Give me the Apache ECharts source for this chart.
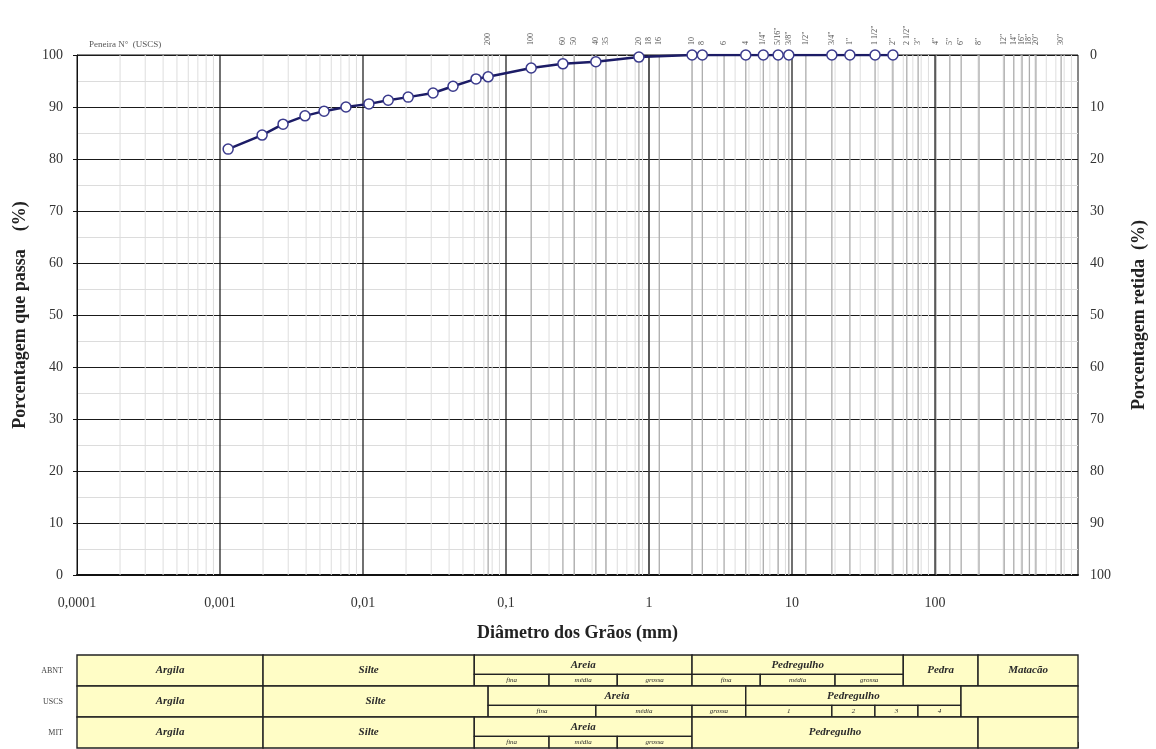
<!DOCTYPE html>
<html>
<head>
<meta charset="utf-8">
<script src="https://cdn.jsdelivr.net/npm/echarts@6/dist/echarts.min.js"></script>
<style>html,body{margin:0;padding:0;background:#fff}#c{width:1156px;height:749px}</style>
</head>
<body>
<div id="c"></div>
<script>
// ---- data ----
var diameters = [0.00114,0.00197,0.00276,0.00393,0.00534,0.0076,0.0110,0.0150,0.0207,0.0309,0.0426,0.0617,0.075,0.15,0.25,0.425,0.85,2.0,2.36,4.75,6.3,8.0,9.5,19.0,25.4,38.1,50.8];
var passing   = [81.9,84.6,86.7,88.3,89.2,90.0,90.6,91.3,91.9,92.7,94.0,95.4,95.8,97.5,98.3,98.7,99.6,100,100,100,100,100,100,100,100,100,100];
var sieveNames = ['200','100','60','50','40','35','20','18','16','10','8','6','4','1/4"','5/16"','3/8"','1/2"','3/4"','1"','1 1/2"','2"','2 1/2"','3"','4"','5"','6"','8"','12"','14"','16"','18"','20"','30"'];
var sieveSizes = [0.075,0.15,0.25,0.3,0.425,0.5,0.85,1.0,1.18,2.0,2.36,3.35,4.75,6.3,8.0,9.5,12.5,19.0,25.4,38.1,50.8,63.5,76.2,101.6,127,152.4,203.2,304.8,355.6,406.4,457.2,508,762];
var xTickLabels = ['0,0001','0,001','0,01','0,1','1','10','100',''];
var rowNames = ['ABNT','USCS','MIT'];
// cells: [from mm, to mm, part(0 full,1 upper,2 lower), label]
var abntCells = [[0.0001,0.002,0,'Argila'],[0.002,0.06,0,'Silte'],[0.06,2,1,'Areia'],[0.06,0.2,2,'fina'],[0.2,0.6,2,'média'],[0.6,2,2,'grossa'],[2,60,1,'Pedregulho'],[2,6,2,'fina'],[6,20,2,'média'],[20,60,2,'grossa'],[60,200,0,'Pedra'],[200,1000,0,'Matacão']];
var uscsCells = [[0.0001,0.002,0,'Argila'],[0.002,0.075,0,'Silte'],[0.075,4.75,1,'Areia'],[0.075,0.425,2,'fina'],[0.425,2,2,'média'],[2,4.75,2,'grossa'],[4.75,152,1,'Pedregulho'],[4.75,19,2,'1'],[19,38,2,'2'],[38,76,2,'3'],[76,152,2,'4'],[152,1000,0,'']];
var mitCells  = [[0.0001,0.002,0,'Argila'],[0.002,0.06,0,'Silte'],[0.06,2,1,'Areia'],[0.06,0.2,2,'fina'],[0.2,0.6,2,'média'],[0.6,2,2,'grossa'],[2,200,0,'Pedregulho'],[200,1000,0,'']];

var SERIF = '"Liberation Serif","DejaVu Serif",serif';

// grid line positions (log paper)
var minorX = [];
for (var e = -4; e <= 2; e++) { for (var k = 2; k <= 9; k++) minorX.push([k * Math.pow(10, e)]); }
var decadeX = [];
for (var e2 = -3; e2 <= 2; e2++) decadeX.push([Math.pow(10, e2)]);

var tableCells = [];
[abntCells, uscsCells, mitCells].forEach(function (rows, r) {
  rows.forEach(function (c) { tableCells.push({ value: [c[0], c[1], r], part: c[2], label: c[3] }); });
});

function vLine(color, width) {
  return function (params, api) {
    var x = api.value(0);
    var p0 = api.coord([x, 0]), p1 = api.coord([x, 100]);
    return { type: 'line', shape: { x1: p0[0], y1: p0[1], x2: p1[0], y2: p1[1] }, style: { stroke: color, lineWidth: width } };
  };
}

var chart = echarts.init(document.getElementById('c'), null, { renderer: 'canvas' });
chart.setOption({
  animation: false,
  backgroundColor: '#fff',
  title: { text: 'Peneira N°  (USCS)', left: 84, top: 35, textStyle: { fontFamily: SERIF, fontSize: 9, fontWeight: 'normal', color: '#555' } },
  grid: [
    { left: 77, right: 78, top: 55, height: 520, show: true, borderColor: '#111', borderWidth: 1, backgroundColor: '#fff' },
    { left: 77, right: 78, top: 655, height: 93 }
  ],
  xAxis: [
    { type: 'log', gridIndex: 0, min: 0.0001, max: 1000, logBase: 10, splitNumber: 7,
      axisLine: { show: true, lineStyle: { color: '#111', width: 2 } }, axisTick: { show: false },
      splitLine: { show: false },
      axisLabel: { margin: 21, fontFamily: SERIF, fontSize: 14, color: '#333',
        formatter: function (v) { var i = Math.round(Math.log10(v)) + 4; return xTickLabels[i] || ''; } },
      name: 'Diâmetro dos Grãos (mm)', nameLocation: 'middle', nameGap: 49,
      nameTextStyle: { fontFamily: SERIF, fontSize: 18, fontWeight: 'bold', color: '#222' } },
    { type: 'log', gridIndex: 1, min: 0.0001, max: 1000, logBase: 10, splitNumber: 7, position: 'top',
      axisLine: { show: false }, axisTick: { show: true, length: 6, lineStyle: { color: '#333' } },
      axisLabel: { show: false }, splitLine: { show: false } }
  ],
  yAxis: [
    { type: 'value', gridIndex: 0, min: 0, max: 100, interval: 10,
      axisLine: { show: true, lineStyle: { color: '#111' } }, axisTick: { show: true, length: 4, lineStyle: { color: '#111' } },
      axisLabel: { margin: 14, fontFamily: SERIF, fontSize: 14, color: '#333' },
      splitLine: { show: true, lineStyle: { color: '#1a1a1a', width: 1 } },
      minorTick: { show: false, splitNumber: 2 }, minorSplitLine: { show: true, lineStyle: { color: '#dcdcdc', width: 1 } },
      name: 'Porcentagem que passa    (%)', nameLocation: 'middle', nameGap: 48, nameRotate: 90,
      nameTextStyle: { fontFamily: SERIF, fontSize: 18, fontWeight: 'bold', color: '#222' } },
    { type: 'value', gridIndex: 0, min: 0, max: 100, interval: 10, inverse: true, position: 'right',
      axisLine: { show: false }, axisTick: { show: false },
      axisLabel: { margin: 12, fontFamily: SERIF, fontSize: 14, color: '#333' }, splitLine: { show: false },
      name: 'Porcentagem retida  (%)', nameLocation: 'middle', nameGap: 52, nameRotate: 90,
      nameTextStyle: { fontFamily: SERIF, fontSize: 18, fontWeight: 'bold', color: '#222' } },
    { type: 'value', gridIndex: 1, min: 0, max: 3, show: false }
  ],
  series: [
    { type: 'custom', xAxisIndex: 0, yAxisIndex: 0, data: minorX, renderItem: vLine('#dedede', 1), z: 1, silent: true },
    { type: 'custom', xAxisIndex: 0, yAxisIndex: 0, data: sieveSizes.map(function (s) { return [s]; }), renderItem: vLine('#acacac', 1.3), z: 2, silent: true },
    { type: 'custom', xAxisIndex: 0, yAxisIndex: 0, data: decadeX, renderItem: vLine('#111', 1.2), z: 3, silent: true },
    { type: 'custom', xAxisIndex: 0, yAxisIndex: 0, clip: false, silent: true, z: 4,
      data: sieveSizes.map(function (s) { return [s]; }),
      renderItem: function (params, api) {
        var p = api.coord([api.value(0), 100]);
        return { type: 'text', x: p[0], y: p[1] - 10, rotation: Math.PI / 2,
          style: { text: sieveNames[params.dataIndex], fill: '#555', font: '8px ' + SERIF, align: 'left', verticalAlign: 'middle' } };
      } },
    { type: 'line', xAxisIndex: 0, yAxisIndex: 0, z: 10,
      data: diameters.map(function (d, i) { return [d, passing[i]]; }),
      symbol: 'circle', symbolSize: 10, showAllSymbol: true,
      lineStyle: { color: '#1c1c66', width: 2.5 },
      itemStyle: { color: '#ffffff', borderColor: '#3a3a8c', borderWidth: 1.5 } },
    { type: 'custom', xAxisIndex: 1, yAxisIndex: 2, clip: false, silent: true, z: 5,
      data: tableCells,
      renderItem: function (params, api) {
        var c = tableCells[params.dataIndex];
        var r = api.value(2);
        var top = 3 - r, bot = 2 - r, mid = top - 0.625;
        var y0 = c.part === 2 ? mid : top;
        var y1 = c.part === 1 ? mid : bot;
        var a = api.coord([api.value(0), y0]);
        var b = api.coord([api.value(1), y1]);
        var sub = c.part === 2;
        return { type: 'group', children: [
          { type: 'rect', shape: { x: a[0], y: a[1], width: b[0] - a[0], height: b[1] - a[1] },
            style: { fill: '#fffdc6', stroke: '#222', lineWidth: 1.4 } },
          { type: 'text', x: (a[0] + b[0]) / 2, y: (a[1] + b[1]) / 2,
            style: { text: c.label, fill: '#2a2a2a', align: 'center', verticalAlign: 'middle',
              font: sub ? 'italic 7px ' + SERIF : 'italic bold 11px ' + SERIF } }
        ] };
      } },
    { type: 'custom', xAxisIndex: 1, yAxisIndex: 2, clip: false, silent: true, z: 6,
      data: rowNames.map(function (n, i) { return [0.0001, 2.5 - i]; }),
      renderItem: function (params, api) {
        var p = api.coord([api.value(0), api.value(1)]);
        return { type: 'text', x: p[0] - 14, y: p[1],
          style: { text: rowNames[params.dataIndex], fill: '#444', font: '8px ' + SERIF, align: 'right', verticalAlign: 'middle' } };
      } }
  ]
});
</script>
</body>
</html>
